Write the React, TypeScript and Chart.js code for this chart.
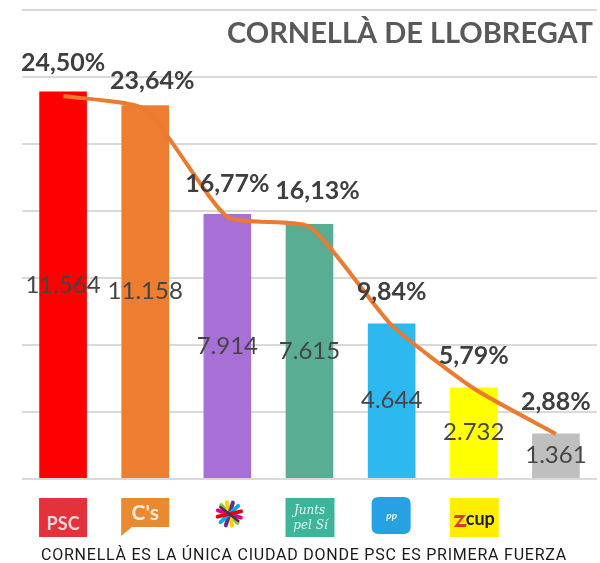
import React, { useEffect, useRef } from "react";
import { Chart, registerables } from "chart.js";

Chart.register(...registerables);

const categories = ["PSC", "C's", "CSQEP", "JxSí", "PP", "CUP", "Otros"];
const votes = [11564, 11158, 7914, 7615, 4644, 2732, 1361];
const percents = [24.5, 23.64, 16.77, 16.13, 9.84, 5.79, 2.88];
const barColors = ["#FF0000", "#ED7D31", "#A86FD6", "#58AD93", "#2DB8EF", "#FFFF00", "#BFBFBF"];
const titleText = "CORNELLÀ DE LLOBREGAT";
const footerText = "CORNELLÀ ES LA ÚNICA CIUDAD DONDE PSC ES PRIMERA FUERZA";
const voteMax = 14000;
const voteStep = 2000;
const percentMax = 30;

// style: small manual nudges of the percent labels (as in the original)
const pctNudgeX = [0, 7, 0, 8, 0, 0, 0];
const pctNudgeY = [0, 5, 0, -3, 0, 0, 1];

const fmtVotes = (v: number) => v.toString().replace(/\B(?=(\d{3})+(?!\d))/g, ".");
const fmtPct = (v: number) => v.toFixed(2).replace(".", ",") + "%";

function roundRect(ctx: CanvasRenderingContext2D, x: number, y: number, w: number, h: number, r: number) {
  ctx.beginPath();
  ctx.moveTo(x + r, y);
  ctx.lineTo(x + w - r, y);
  ctx.quadraticCurveTo(x + w, y, x + w, y + r);
  ctx.lineTo(x + w, y + h - r);
  ctx.quadraticCurveTo(x + w, y + h, x + w - r, y + h);
  ctx.lineTo(x + r, y + h);
  ctx.quadraticCurveTo(x, y + h, x, y + h - r);
  ctx.lineTo(x, y + r);
  ctx.quadraticCurveTo(x, y, x + r, y);
  ctx.closePath();
}

function drawLogo(ctx: CanvasRenderingContext2D, name: string, cx: number, top: number) {
  ctx.save();
  if (name === "PSC") {
    ctx.fillStyle = "#E4323B";
    ctx.fillRect(cx - 24, top, 48, 39);
    ctx.fillStyle = "#F6D6DA";
    ctx.font = "bold 18px Lato";
    ctx.textAlign = "center";
    ctx.textBaseline = "alphabetic";
    ctx.fillText("PSC", cx, top + 32);
  } else if (name === "C's") {
    ctx.fillStyle = "#E98A30";
    ctx.fillRect(cx - 24, top, 48, 29);
    ctx.beginPath();
    ctx.moveTo(cx - 24, top + 28);
    ctx.lineTo(cx - 24, top + 38);
    ctx.lineTo(cx - 12, top + 28);
    ctx.closePath();
    ctx.fill();
    ctx.fillStyle = "#FBEBDD";
    ctx.font = "bold 21px Lato";
    ctx.textAlign = "center";
    ctx.fillText("C's", cx, top + 22);
  } else if (name === "CSQEP") {
    const cols = ["#E6007E", "#8DC63F", "#FFD200", "#662D91", "#00AEEF", "#E30613"];
    const ccx = cx + 2, ccy = top + 16, r = 12;
    ctx.lineWidth = 4;
    ctx.lineCap = "round";
    cols.forEach((c, i) => {
      const a = (i * Math.PI) / cols.length + 0.3;
      ctx.strokeStyle = c;
      ctx.beginPath();
      ctx.moveTo(ccx - Math.cos(a) * r, ccy - Math.sin(a) * r);
      ctx.lineTo(ccx + Math.cos(a) * r, ccy + Math.sin(a) * r);
      ctx.stroke();
    });
    ctx.strokeStyle = "#4B2A5A";
    ctx.lineWidth = 2.5;
    ctx.beginPath();
    ctx.moveTo(ccx - 9, ccy - 7);
    ctx.lineTo(ccx + 9, ccy + 7);
    ctx.stroke();
  } else if (name === "JxSí") {
    ctx.fillStyle = "#3DB59B";
    ctx.fillRect(cx - 24, top, 49, 39);
    ctx.fillStyle = "#E6F7F2";
    ctx.font = "italic 12px 'DejaVu Serif'";
    ctx.textAlign = "center";
    ctx.fillText("Junts", cx, top + 16);
    ctx.fillText("pel Sí", cx + 1, top + 31);
  } else if (name === "PP") {
    ctx.fillStyle = "#26A2E2";
    roundRect(ctx, cx - 20, top - 1, 39, 37, 7);
    ctx.fill();
    ctx.fillStyle = "#E8F6FD";
    ctx.font = "italic bold 10px Lato";
    ctx.textAlign = "center";
    ctx.fillText("pp", cx, top + 21);
  } else if (name === "CUP") {
    ctx.fillStyle = "#FFEE00";
    ctx.fillRect(cx - 24, top, 49, 39);
    ctx.fillStyle = "#E03A1E";
    ctx.beginPath();
    ctx.moveTo(cx - 19, top + 17);
    ctx.lineTo(cx - 8, top + 17);
    ctx.lineTo(cx - 15, top + 26);
    ctx.lineTo(cx - 7, top + 26);
    ctx.lineTo(cx - 8, top + 29);
    ctx.lineTo(cx - 20, top + 29);
    ctx.lineTo(cx - 13, top + 20);
    ctx.lineTo(cx - 20, top + 20);
    ctx.closePath();
    ctx.fill();
    ctx.fillStyle = "#1A1A1A";
    ctx.font = "bold 18px Lato";
    ctx.textAlign = "left";
    ctx.fillText("cup", cx - 8, top + 27);
  }
  ctx.restore();
}

const customPlugin = {
  id: "customLabels",
  afterDatasetsDraw(chart: any) {
    const ctx: CanvasRenderingContext2D = chart.ctx;
    const lineMeta = chart.getDatasetMeta(0);
    const barMeta = chart.getDatasetMeta(1);
    ctx.save();
    ctx.font = "24px Lato";
    ctx.fillStyle = "#454545";
    ctx.textAlign = "center";
    ctx.textBaseline = "middle";
    barMeta.data.forEach((bar: any, i: number) => {
      const mid = (bar.y + bar.base) / 2;
      ctx.fillText(fmtVotes(votes[i]), bar.x, mid);
    });
    ctx.font = "bold 25px Lato";
    ctx.fillStyle = "#3F3F3F";
    lineMeta.data.forEach((pt: any, i: number) => {
      ctx.fillText(fmtPct(percents[i]), pt.x + pctNudgeX[i], pt.y - 33 + pctNudgeY[i]);
    });
    ctx.restore();
  },
  afterDraw(chart: any) {
    const ctx: CanvasRenderingContext2D = chart.ctx;
    const area = chart.chartArea;
    const xs = chart.scales.x;
    ctx.save();
    ctx.font = "bold 29px Lato";
    ctx.fillStyle = "#595959";
    ctx.textAlign = "right";
    ctx.textBaseline = "alphabetic";
    ctx.fillText(titleText, area.right - 4, 43);
    categories.forEach((c, i) => {
      drawLogo(ctx, c, xs.getPixelForValue(i), area.bottom + 19);
    });
    ctx.font = "16px Roboto";
    ctx.fillStyle = "#1A1A1A";
    ctx.textAlign = "left";
    const target = 525;
    const w = ctx.measureText(footerText).width;
    const ls = (target - w) / (footerText.length - 1);
    (ctx as any).letterSpacing = ls.toFixed(2) + "px";
    ctx.fillText(footerText, 41, 560);
    ctx.restore();
  },
};

export default function App() {
  const ref = useRef<HTMLCanvasElement>(null);
  useEffect(() => {
    if (!ref.current) return;
    const chart = new Chart(ref.current, {
      type: "bar",
      data: {
        labels: categories,
        datasets: [
          {
            type: "line",
            data: percents,
            borderColor: "#EA7B30",
            borderWidth: 4,
            pointRadius: 0,
            tension: 0.18,
            yAxisID: "y2",
            order: 0,
          } as any,
          {
            type: "bar",
            data: votes,
            backgroundColor: barColors,
            barPercentage: 0.58,
            categoryPercentage: 1,
            yAxisID: "y",
            order: 1,
          },
        ],
      },
      options: {
        animation: false,
        responsive: false,
        maintainAspectRatio: false,
        devicePixelRatio: 1,
        layout: { padding: { left: 22, right: 3, top: 10, bottom: 84 } },
        plugins: { legend: { display: false }, tooltip: { enabled: false }, title: { display: false } },
        scales: {
          x: { display: false, offset: true },
          y: {
            display: true,
            min: 0,
            max: voteMax,
            ticks: { display: false, stepSize: voteStep },
            grid: { color: "#D9D9D9", lineWidth: 2, drawTicks: false },
            border: { display: false },
          },
          y2: { display: false, min: 0, max: percentMax, position: "right" },
        },
      },
      plugins: [customPlugin],
    });
    return () => chart.destroy();
  }, []);
  return (
    <div style={{ position: "absolute", left: 0, top: 0, width: 600, height: 563, background: "#fff" }}>
      <canvas ref={ref} width={600} height={563} />
    </div>
  );
}
